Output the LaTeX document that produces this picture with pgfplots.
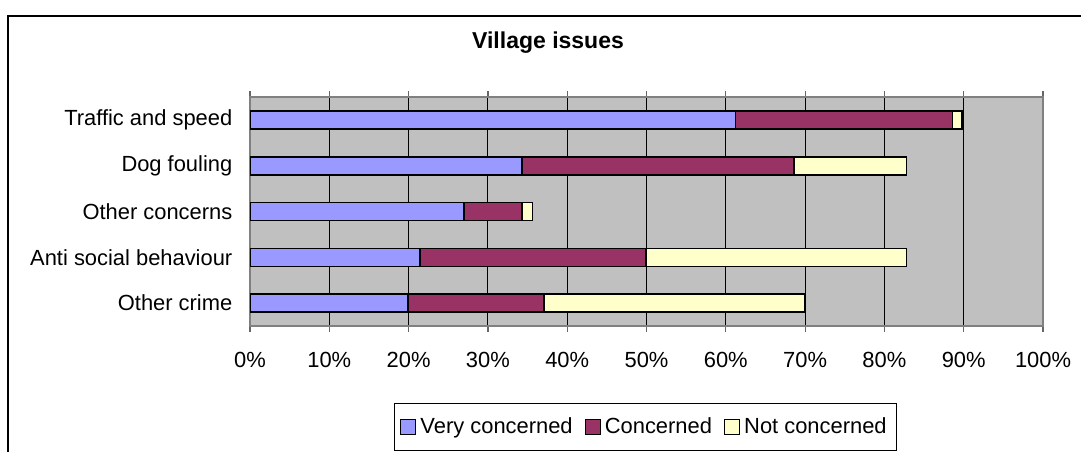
\documentclass[11pt,border=0pt]{standalone}
\usepackage{pgfplots}
\pgfplotsset{compat=1.18}
\usepackage{fontspec}
\setmainfont{Liberation Sans}
\definecolor{vconc}{HTML}{9999FF}
\definecolor{conc}{HTML}{993366}
\definecolor{nconc}{HTML}{FFFFCC}
\definecolor{plotbg}{HTML}{C0C0C0}
\begin{document}
\begin{tikzpicture}
% picture in pixel units of the reference (1 px = 0.5 pt, y downwards)
\begin{scope}[x=0.5pt,y=-0.5pt]
  \path[use as bounding box] (0,0) rectangle (1081,447);
  \draw[line width=1pt] (8,470) -- (8,16) -- (1100,16);
  \node[font=\fontsize{11.5}{14}\bfseries] at (548,43) {Village issues};
\end{scope}
\begin{axis}[
    at={(125pt,-163pt)}, anchor=south west,
    scale only axis,
    width=396.5pt, height=114.5pt,
    xbar stacked,
    bar width=9pt,
    xmin=0, xmax=100,
    ymin=-0.5, ymax=4.5,
    xtick={0,10,...,100},
    xticklabel={\pgfmathprintnumber{\tick}\%},
    ytick={0,1,2,3,4},
    yticklabels={Other crime,Anti social behaviour,Other concerns,Dog fouling,Traffic and speed},
    y tick style={draw=none},
    extra y ticks={-0.5,0.5,1.5,2.5,3.5,4.5},
    extra y tick labels={},
    extra y tick style={tick style={draw=black!60, line width=0.6pt}},
    tick align=outside,
    major tick length=3pt,
    x tick style={draw=black!60, line width=0.6pt},
    xmajorgrids,
    grid style={draw=black, line width=0.5pt},
    axis background/.style={fill=plotbg},
    axis line style={draw=black!50, line width=1pt},
    /pgf/number format/assume math mode=true,
    xticklabel style={yshift=-6.5pt},
    yticklabel style={xshift=-2pt},
    legend style={at={(0.4987,-0.336)}, anchor=north, legend columns=3,
      draw=black, line width=0.5pt, fill=white, inner ysep=5pt,
      /tikz/every even column/.append style={column sep=4pt}},
    legend image code/.code={\draw[#1,draw=black,line width=0.6pt] (0pt,-3.75pt) rectangle (7.5pt,3.75pt);},
  ]
  \addplot[fill=vconc, draw=black, line width=0.8pt] coordinates {
    (19.9,0) (21.4,1) (27.0,2) (34.3,3) (61.2,4)
  };
  \addlegendentry{Very concerned}
  \addplot[fill=conc, draw=black, line width=0.8pt] coordinates {
    (17.2,0) (28.5,1) (7.3,2) (34.3,3) (27.4,4)
  };
  \addlegendentry{Concerned}
  \addplot[fill=nconc, draw=black, line width=0.8pt] coordinates {
    (32.8,0) (32.9,1) (1.3,2) (14.2,3) (1.2,4)
  };
  \addlegendentry{Not concerned}
\end{axis}
\end{tikzpicture}
\end{document}
